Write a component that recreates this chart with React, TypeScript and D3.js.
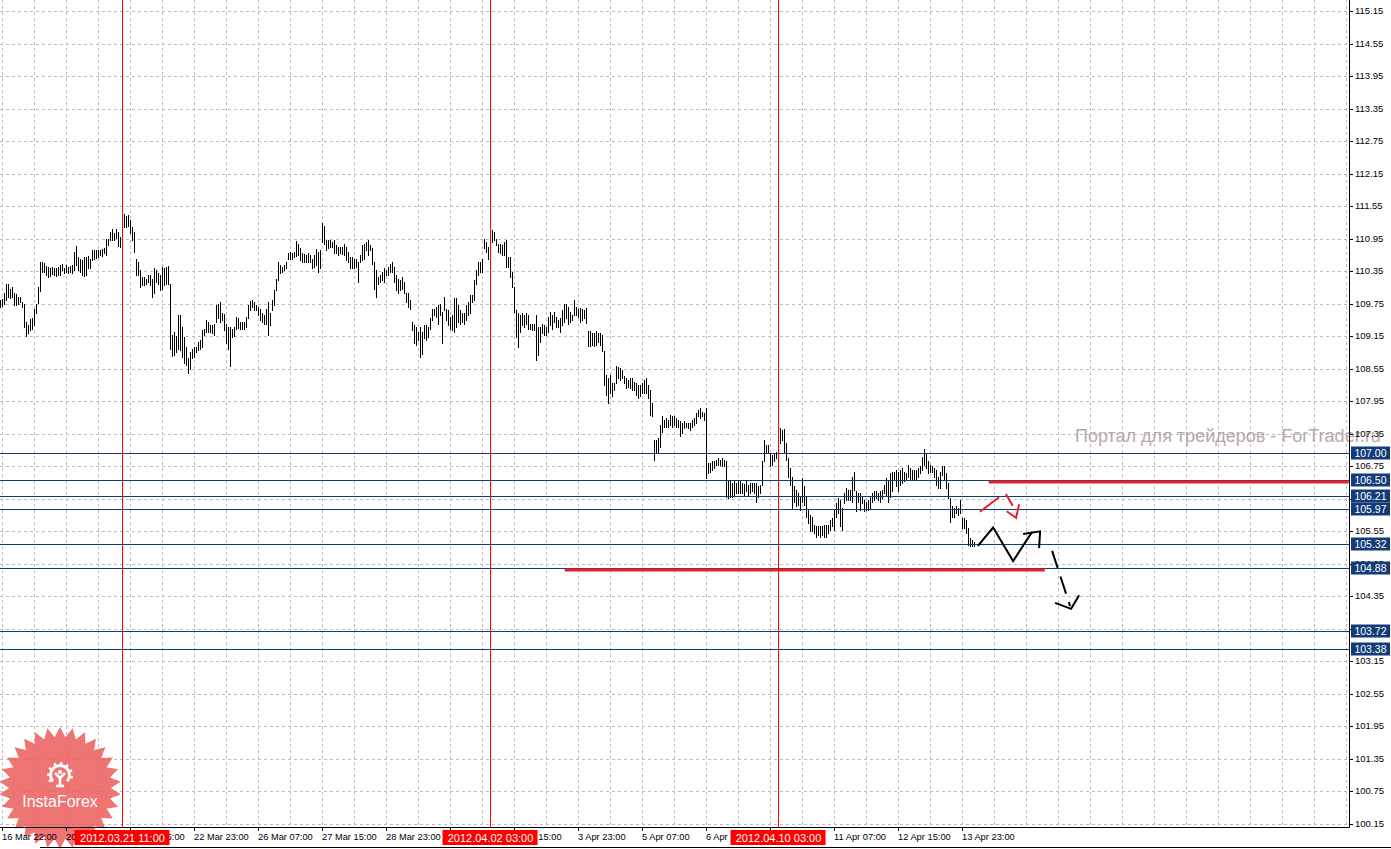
import React, { useEffect, useRef } from "react";
import * as d3 from "d3";

const W = 1391;
const H = 849;
const plotRight = 1349;
const plotBottom = 827;
const font = "'Liberation Sans', Arial, sans-serif";

// hourly bars (high / low per bar)
const highs = [
  109.82,109.83,109.94,110.12,110.12,110.03,110.05,109.94,109.93,109.88,109.88,109.78,109.75,109.41,109.35,109.46,109.48,109.66,109.75,110.05,
  110.52,110.52,110.50,110.44,110.43,110.40,110.43,110.40,110.40,110.43,110.46,110.48,110.40,110.46,110.43,110.45,110.46,110.71,110.81,110.61,
  110.58,110.55,110.61,110.61,110.63,110.58,110.74,110.74,110.74,110.74,110.74,110.75,110.77,110.95,110.95,111.08,111.12,111.05,111.12,111.08,
  110.98,111.29,111.40,111.36,111.38,111.29,111.17,111.08,110.58,110.52,110.37,110.25,110.25,110.21,110.28,110.28,110.21,110.40,110.37,110.32,
  110.28,110.43,110.40,110.43,110.44,110.12,109.17,109.23,109.15,109.54,109.54,109.32,109.14,108.95,108.74,108.86,108.92,108.95,108.95,109.05,
  109.08,109.26,109.29,109.45,109.41,109.35,109.35,109.38,109.72,109.75,109.78,109.57,109.56,109.38,109.32,109.32,109.29,109.32,109.50,109.48,
  109.41,109.41,109.41,109.51,109.72,109.80,109.82,109.78,109.72,109.69,109.66,109.57,109.54,109.66,109.78,109.57,109.82,110.00,110.21,110.52,
  110.46,110.43,110.46,110.52,110.68,110.71,110.68,110.71,110.91,110.86,110.77,110.68,110.66,110.65,110.68,110.65,110.58,110.65,110.75,110.71,
  110.74,111.23,111.18,110.92,110.92,110.93,110.89,110.92,110.83,110.80,110.80,110.79,110.86,110.80,110.71,
  110.61,110.61,110.58,110.58,110.52,110.65,110.83,110.86,110.89,110.92,110.83,110.77,110.52,110.37,110.25,110.28,110.34,110.40,110.37,110.43,110.49,110.52,110.43,110.28,110.21,
  110.18,110.25,110.15,109.94,109.94,109.82,109.41,109.35,109.32,109.23,109.32,109.23,109.35,109.35,109.32,109.48,109.66,109.66,109.68,109.72,109.75,109.60,109.88,109.66,109.63,
  109.51,109.54,109.85,109.85,109.72,109.63,109.57,109.57,109.72,109.78,109.91,109.91,110.18,110.37,110.52,110.52,110.58,110.95,110.89,110.80,111.05,111.11,111.08,110.95,110.86,
  110.86,110.83,110.89,110.93,110.61,110.61,110.34,110.06,109.63,109.57,109.54,109.57,109.54,109.57,109.54,109.38,109.38,109.38,109.54,109.32,109.32,109.38,109.35,109.32,109.51,
  109.60,109.54,109.60,109.51,109.45,109.48,109.63,109.75,109.75,109.69,109.60,109.54,109.82,109.69,109.66,
  109.67,109.65,109.64,109.67,109.24,109.24,109.21,109.21,109.24,109.21,109.21,109.18,108.87,108.44,108.38,108.44,108.28,108.28,108.60,108.58,108.56,108.53,108.41,108.38,108.35,
  108.38,108.38,108.31,108.28,108.25,108.25,108.28,108.35,108.38,108.25,108.16,107.91,107.24,107.24,107.27,107.52,107.67,107.61,107.64,107.61,107.70,107.68,107.67,107.64,107.61,
  107.58,107.55,107.58,107.55,107.55,107.55,107.61,107.64,107.73,107.79,107.82,107.76,107.73,107.82,106.81,106.81,106.84,106.84,106.87,106.90,106.87,106.90,106.87,106.84,106.47,
  106.47,106.44,106.47,106.44,106.47,106.47,106.44,106.43,106.47,106.41,106.44,106.44,106.44,106.44,106.38,106.41,106.84,107.24,107.15,107.15,106.99,106.96,106.99,107.02,107.11,
  107.45,107.42,107.43,107.18,106.90,106.72,106.56,106.38,106.32,106.25,106.19,106.53,106.38,106.19,105.95,105.85,105.82,105.67,105.64,105.64,105.64,105.64,105.67,105.67,105.67,
  105.76,105.79,105.95,106.07,106.16,106.13,105.98,106.25,106.35,106.32,106.32,106.56,106.65,106.29,106.25,106.25,106.19,106.13,106.10,106.13,106.19,106.25,106.29,106.29,106.25,
  106.29,106.32,106.41,106.53,106.50,106.62,106.65,106.65,106.68,106.65,106.68,106.72,106.65,106.62,106.78,106.72,106.68,106.68,106.68,106.72,106.75,106.93,107.07,106.99,106.84,
  106.78,106.75,106.72,106.68,106.56,106.65,106.75,106.75,106.62,106.44,106.16,106.01,105.98,106.01,105.98,106.13,105.79,105.79,105.76,105.61,105.42,105.39,105.36,
];

const lows = [
  109.69,109.70,109.75,109.82,109.88,109.85,109.88,109.72,109.72,109.75,109.78,109.69,109.32,109.15,109.20,109.26,109.29,109.35,109.57,109.77,
  109.99,110.34,110.34,110.28,110.25,110.26,110.30,110.28,110.26,110.28,110.28,110.37,110.31,110.34,110.32,110.34,110.31,110.37,110.46,110.37,
  110.34,110.28,110.26,110.28,110.40,110.40,110.55,110.58,110.60,110.61,110.65,110.63,110.68,110.65,110.83,110.92,110.93,110.92,110.97,110.81,
  110.80,110.98,111.17,111.17,111.18,111.05,110.92,110.71,110.28,110.28,110.06,110.09,110.09,110.12,110.15,110.09,109.88,109.94,110.15,110.12,
  110.00,110.03,110.09,110.12,110.12,108.92,108.78,108.80,108.86,108.92,108.89,108.77,108.65,108.62,108.47,108.55,108.74,108.77,108.86,108.89,
  108.92,108.95,109.17,109.23,109.23,109.23,109.20,109.17,109.41,109.48,109.41,109.45,109.26,109.02,108.92,108.60,109.14,109.15,109.29,109.31,
  109.29,109.29,109.29,109.32,109.48,109.63,109.69,109.63,109.63,109.54,109.45,109.41,109.38,109.38,109.17,109.35,109.63,109.72,110.00,110.18,
  110.31,110.34,110.37,110.40,110.58,110.58,110.58,110.61,110.63,110.65,110.55,110.52,110.52,110.52,110.52,110.52,110.40,110.43,110.46,110.34,
  110.40,110.89,110.86,110.74,110.77,110.80,110.80,110.68,110.68,110.65,110.68,110.66,110.65,110.55,110.52,
  110.40,110.40,110.40,110.43,110.15,110.52,110.55,110.58,110.74,110.65,110.74,110.49,110.03,109.88,110.12,110.15,110.18,110.15,110.28,110.28,110.34,110.34,110.15,110.00,109.94,
  110.00,110.03,109.94,109.78,109.69,109.66,109.26,109.02,108.98,109.08,108.77,108.83,109.11,109.08,109.14,109.29,109.45,109.54,109.51,109.38,109.54,109.02,109.63,109.45,109.35,
  109.29,109.26,109.23,109.32,109.41,109.38,109.41,109.38,109.45,109.54,109.57,109.78,109.82,110.12,110.28,110.34,110.34,110.77,110.71,110.58,110.80,110.89,110.93,110.83,110.71,
  110.68,110.65,110.65,110.43,110.43,110.25,110.06,109.60,109.14,108.95,109.23,109.35,109.32,109.38,109.29,109.29,109.26,109.26,108.71,108.80,109.05,109.20,109.17,109.17,109.23,
  109.35,109.29,109.41,109.32,109.32,109.23,109.35,109.41,109.48,109.38,109.41,109.45,109.54,109.54,109.51,
  109.42,109.45,109.48,109.39,108.96,108.96,108.99,108.96,108.99,109.05,108.99,108.87,108.25,108.07,107.91,108.10,108.04,108.16,108.28,108.38,108.35,108.38,108.28,108.19,108.22,
  108.19,108.16,108.16,108.07,108.01,108.04,108.10,108.10,108.10,108.01,107.70,107.67,106.87,106.99,106.99,107.11,107.39,107.48,107.48,107.48,107.52,107.48,107.52,107.48,107.48,
  107.30,107.36,107.45,107.48,107.45,107.42,107.48,107.52,107.55,107.67,107.64,107.67,107.61,106.53,106.62,106.65,106.68,106.72,106.78,106.78,106.78,106.75,106.75,106.19,106.16,
  106.19,106.19,106.22,106.25,106.25,106.25,106.25,106.22,106.29,106.22,106.25,106.29,106.25,106.10,106.19,106.25,106.41,106.84,106.99,106.99,106.75,106.78,106.84,106.90,106.93,
  107.18,107.24,107.02,106.87,106.56,106.41,105.98,106.10,106.01,106.04,105.95,106.10,106.04,105.82,105.70,105.55,105.55,105.52,105.45,105.49,105.45,105.49,105.45,105.44,105.52,
  105.58,105.64,105.58,105.82,105.89,105.64,105.58,106.07,106.13,106.13,106.13,106.10,106.32,105.92,106.10,105.95,106.07,105.92,105.95,105.95,105.98,106.10,106.13,106.16,106.13,
  106.10,106.16,106.25,106.22,106.10,106.19,106.29,106.50,106.38,106.29,106.41,106.44,106.47,106.50,106.56,106.50,106.50,106.50,106.50,106.56,106.62,106.68,106.78,106.72,106.62,
  106.65,106.65,106.56,106.41,106.35,106.35,106.59,106.50,106.35,106.16,105.73,105.82,105.82,105.89,105.85,105.89,105.61,105.61,105.52,105.30,105.27,105.27,105.27,
];

// one label every 32 bars, starting at bar 1 ("" = fully covered by a marker label)
const timeLabels = [
  "16 Mar 22:00", "20 Mar 07:00", "21 Mar 15:00", "22 Mar 23:00", "26 Mar 07:00", "27 Mar 15:00",
  "28 Mar 23:00", "", "2 Apr 15:00", "3 Apr 23:00", "5 Apr 07:00", "6 Apr 15:00",
  "", "11 Apr 07:00", "12 Apr 15:00", "13 Apr 23:00",
];

const priceTicks = [
  115.15, 114.55, 113.95, 113.35, 112.75, 112.15, 111.55, 110.95, 110.35, 109.75, 109.15, 108.55, 107.95,
  107.35, 106.75, 106.15, 105.55, 104.95, 104.35, 103.75, 103.15, 102.55, 101.95, 101.35, 100.75, 100.15,
];

const levels = [107.0, 106.5, 106.21, 105.97, 105.32, 104.88, 103.72, 103.38];

const redLevels = [106.5, 104.88];
const redFrom = [494, 282];
const redTo = [674, 522];

const markerBars = [61, 245, 389];
const markerLabels = ["2012.03.21 11:00", "2012.04.02 03:00", "2012.04.10 03:00"];

// hand drawn forecast, as [bar, price]
const redLine: [number, number][] = [[489.6, 105.91], [499.2, 106.18]];
const redDash: [number, number][] = [[502.6, 106.24], [506.0, 106.02]];
const redHead: [number, number][] = [[503.0, 105.92], [507.7, 105.8], [509.2, 106.05]];
const zigzag: [number, number][] = [[488.6, 105.28], [496.2, 105.62], [506.2, 105.0], [515.7, 105.54]];
const zigHead: [number, number][] = [[511.2, 105.5], [519.7, 105.55], [519.2, 105.24]];
const dropLine: [number, number][] = [[525.7, 105.19], [534.7, 104.17]];
const dropHead: [number, number][] = [[527.2, 104.23], [535.2, 104.12], [539.2, 104.37]];

export default function App() {
  const ref = useRef<SVGSVGElement>(null);

  useEffect(() => {
    const svg = d3.select(ref.current);
    svg.selectAll("*").remove();

    const x = d3.scaleLinear().domain([0, 1]).range([0.7, 2.7]);
    const y = d3.scaleLinear().domain([100.15, 115.15]).range([824, 11]);
    const row = (p: number) => Math.round(y(p)) + 0.5;
    const col = (i: number) => Math.floor(x(i)) + 0.5;

    svg.append("rect").attr("width", W).attr("height", H).attr("fill", "#ffffff");

    // grid
    const grid = svg.append("g").attr("stroke", "#c4b8c4").attr("stroke-dasharray", "3,3");
    priceTicks.forEach((p) => {
      grid.append("line").attr("x1", 0).attr("x2", plotRight).attr("y1", row(p)).attr("y2", row(p));
    });
    for (let i = 1; x(i) < plotRight - 1; i += 16) {
      grid.append("line").attr("x1", col(i)).attr("x2", col(i)).attr("y1", 0).attr("y2", plotBottom);
    }

    // bars
    const n = Math.min(highs.length, lows.length);
    svg.append("g")
      .selectAll("rect")
      .data(d3.range(n))
      .enter().append("rect")
      .attr("x", (i) => Math.floor(x(i)))
      .attr("y", (i) => Math.round(y(highs[i])))
      .attr("width", 1)
      .attr("height", (i) => Math.max(1, Math.round(y(lows[i])) - Math.round(y(highs[i])) + 1))
      .attr("fill", "#000000");

    // levels
    levels.forEach((p) => {
      svg.append("line").attr("x1", 0).attr("x2", plotRight).attr("y1", row(p)).attr("y2", row(p))
        .attr("stroke", "#123c78").attr("stroke-width", 1);
    });
    redLevels.forEach((p, k) => {
      svg.append("line").attr("x1", x(redFrom[k])).attr("x2", Math.min(plotRight, x(redTo[k])))
        .attr("y1", Math.round(y(p)) + 2).attr("y2", Math.round(y(p)) + 2)
        .attr("stroke", "#e8202a").attr("stroke-width", 3);
    });

    // vertical markers
    markerBars.forEach((b) => {
      svg.append("line").attr("x1", col(b)).attr("x2", col(b)).attr("y1", 0).attr("y2", plotBottom)
        .attr("stroke", "#ff0000").attr("stroke-width", 1);
    });

    // watermark
    svg.append("text").attr("x", 1075).attr("y", 441.5).attr("font-family", font).attr("font-size", 18)
      .attr("fill", "#b5a9a9").text("Портал для трейдеров - ForTrader.ru");

    // forecast drawings
    const line = d3.line<[number, number]>().x((d) => x(d[0])).y((d) => y(d[1]));
    const draw = (pts: [number, number][], color: string, dash?: string) => {
      const p = svg.append("path").attr("d", line(pts)).attr("fill", "none").attr("stroke", color)
        .attr("stroke-width", 2).attr("stroke-linejoin", "miter");
      if (dash) p.attr("stroke-dasharray", dash);
    };
    draw(redLine, "#e8202a");
    draw(redDash, "#e8202a");
    draw(redHead, "#e8202a");
    draw(zigzag, "#000000");
    draw(zigHead, "#000000");
    draw(dropLine, "#000000", "18,9");
    draw(dropHead, "#000000");

    // logo
    const logo = svg.append("g").attr("transform", "translate(60,788)");
    const spikes = 30;
    const star = d3.range(spikes * 2).map((k) => {
      const a = (k * Math.PI) / spikes - Math.PI / 2;
      const r = k % 2 === 0 ? 61 : 51;
      return [Math.cos(a) * r, Math.sin(a) * r] as [number, number];
    });
    logo.append("path").attr("d", d3.line()(star) + "Z").attr("fill", "#ec5c5c").attr("opacity", 0.85);
    const icon = logo.append("g").attr("transform", "translate(0,-13)").attr("stroke", "#ffffff")
      .attr("fill", "none");
    const arc = d3.arc()({ innerRadius: 8, outerRadius: 11, startAngle: -2.3, endAngle: 2.3 } as any);
    icon.append("path").attr("d", arc).attr("fill", "#ffffff").attr("stroke", "none");
    d3.range(-2.1, 2.2, 0.55).forEach((a) => {
      icon.append("line").attr("x1", Math.sin(a) * 10).attr("y1", -Math.cos(a) * 10)
        .attr("x2", Math.sin(a) * 13).attr("y2", -Math.cos(a) * 13).attr("stroke-width", 2.4);
    });
    icon.append("circle").attr("cx", 0).attr("cy", -3).attr("r", 2).attr("fill", "#ffffff").attr("stroke", "none");
    icon.append("path").attr("d", "M-5,-2 L0,3 L5,-2 M0,3 L0,11 M-4,11 L4,11").attr("stroke-width", 2.6);
    logo.append("text").attr("x", 0).attr("y", 19).attr("text-anchor", "middle").attr("font-family", font)
      .attr("font-size", 16).attr("fill", "#ffffff").text("InstaForex");

    // frame
    svg.append("line").attr("x1", plotRight + 0.5).attr("x2", plotRight + 0.5).attr("y1", 0).attr("y2", plotBottom + 0.5)
      .attr("stroke", "#000");
    svg.append("line").attr("x1", 0).attr("x2", plotRight + 0.5).attr("y1", plotBottom + 0.5).attr("y2", plotBottom + 0.5)
      .attr("stroke", "#000");
    svg.append("line").attr("x1", 40).attr("x2", W).attr("y1", 847.5).attr("y2", 847.5).attr("stroke", "#000");

    // price axis
    priceTicks.forEach((p) => {
      svg.append("line").attr("x1", plotRight).attr("x2", plotRight + 4).attr("y1", row(p)).attr("y2", row(p))
        .attr("stroke", "#000");
      svg.append("text").attr("x", 1355).attr("y", Math.round(y(p))).attr("dy", "0.36em")
        .attr("font-family", font).attr("font-size", 9.5).attr("fill", "#000").text(p.toFixed(2));
    });

    // time axis
    timeLabels.forEach((t, k) => {
      const cx = col(1 + 32 * k);
      svg.append("line").attr("x1", cx).attr("x2", cx).attr("y1", plotBottom).attr("y2", plotBottom + 4)
        .attr("stroke", "#000");
      if (!t) return;
      svg.append("text").attr("x", Math.floor(x(1 + 32 * k))).attr("y", 839.5).attr("font-family", font)
        .attr("font-size", 9.3).attr("fill", "#000").text(t);
    });

    // level labels
    levels.forEach((p) => {
      const cy = Math.round(y(p));
      svg.append("rect").attr("x", 1351).attr("y", cy - 6.5).attr("width", 39).attr("height", 13).attr("fill", "#123c78");
      svg.append("text").attr("x", 1370.5).attr("y", cy).attr("dy", "0.36em").attr("text-anchor", "middle")
        .attr("font-family", font).attr("font-size", 10.5).attr("fill", "#fff").text(p.toFixed(2));
    });

    // marker labels
    markerBars.forEach((b, k) => {
      const cx = col(b);
      svg.append("rect").attr("x", cx - 48).attr("y", 830).attr("width", 95).attr("height", 15).attr("fill", "#ff0000");
      svg.append("text").attr("x", cx).attr("y", 841.5).attr("text-anchor", "middle").attr("font-family", font)
        .attr("font-size", 11).attr("fill", "#fff").text(markerLabels[k]);
    });
  }, []);

  return (
    <svg ref={ref} width={W} height={H}
      style={{ position: "absolute", left: 0, top: 0, display: "block" }} />
  );
}
